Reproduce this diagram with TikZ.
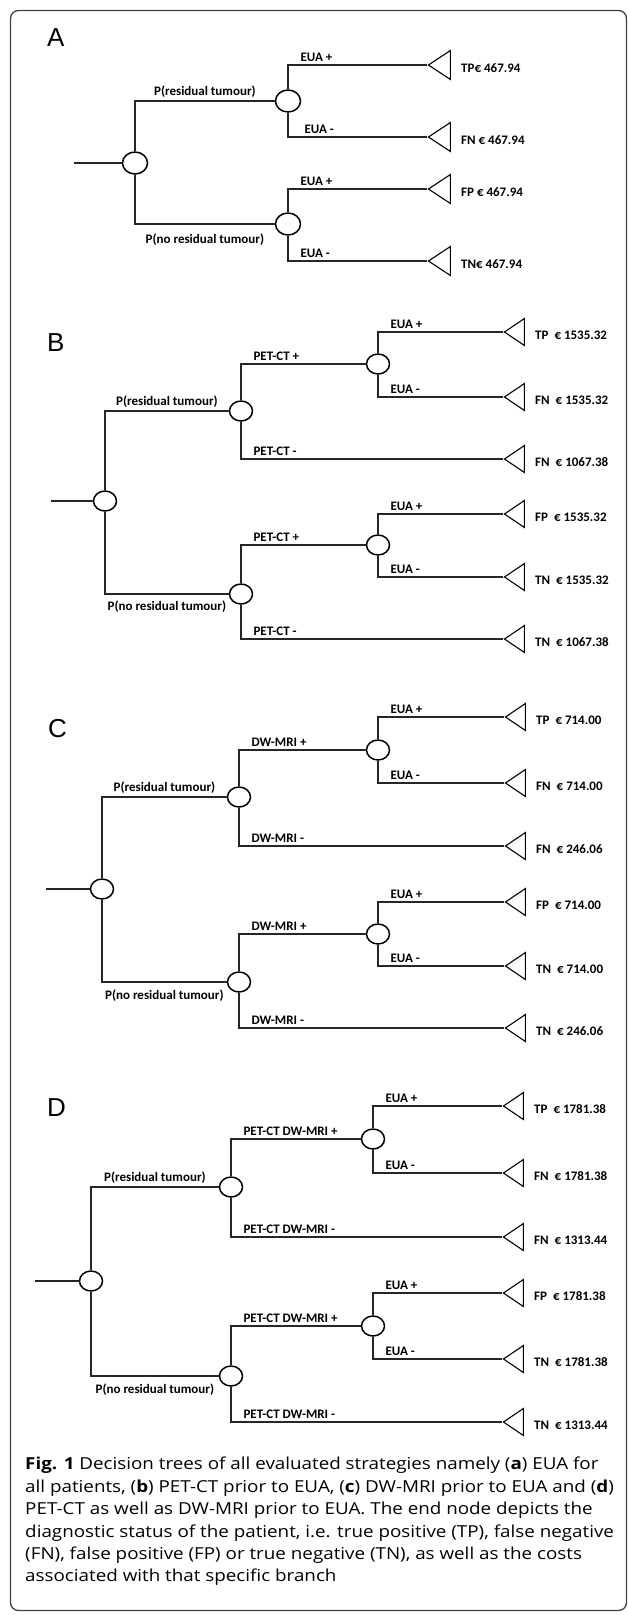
\documentclass[tikz,border=0pt]{standalone}
\usepackage{fontspec}
\setmainfont{Liberation Sans}
\newfontfamily\treefont{Carlito}
\newfontfamily\capfont{Open Sans}
\usetikzlibrary{positioning,shapes.geometric}

\newcommand{\costgap}{\hspace{6pt}}

\tikzset{
  frame/.style={draw=black!75, line width=1.3pt, rounded corners=8pt},
  chance/.style={draw, line width=1.5pt, ellipse, inner sep=0pt,
    minimum width=23pt, minimum height=20pt},
  bigchance/.style={chance, minimum width=25pt, minimum height=22pt},
  payoff/.style={draw, line width=1.1pt, isosceles triangle,
    shape border rotate=180, isosceles triangle stretches, inner sep=0pt,
    minimum width=27pt, minimum height=20pt, anchor=apex},
  bigpayoff/.style={payoff, minimum width=29pt, minimum height=22pt},
  branch/.style={draw=black!85, line width=1.1pt},
  prob/.style={font=\treefont\bfseries\fontsize{13}{15}\selectfont, inner sep=3pt},
  testlabel/.style={prob, pos=0.5, above right, xshift=9pt},
  cost/.style={prob, right=7pt of #1, yshift=-3pt},
  letter/.style={font=\fontsize{26}{30}\selectfont, anchor=base west, inner sep=0pt},
  figcaption/.style={font=\capfont\fontsize{16.5}{22.4}\selectfont, align=left,
    anchor=north west, inner sep=0pt, xscale=1.14}
}

\begin{document}
\begin{tikzpicture}[x=1pt, y=-1pt]
\useasboundingbox (0,0) rectangle (627,1615);
\draw[frame] (10.5,10.5) rectangle (626.5,1610.5);

% ----- A: EUA for all patients -----
\node[letter] (lblA) at (47,46) {A};
\coordinate (a-in) at (74,163);
\node[bigchance] (a0) at (135,163) {};
\node[bigchance] (a1) at (288,101) {};
\node[bigchance] (a2) at (288,224) {};
\node[bigpayoff] (a-tp) at (427,65) {};
\node[bigpayoff] (a-fn) at (427,137) {};
\node[bigpayoff] (a-fp) at (427,189) {};
\node[bigpayoff] (a-tn) at (427,261) {};
% branches
\draw[branch] (a-in) -- (a0);
\draw[branch] (a0) |- node[prob, pos=0.75, above] {P(residual tumour)} (a1);
\draw[branch] (a0) |- node[prob, pos=0.75, below=6pt] {P(no residual tumour)} (a2);
\draw[branch] (a1) |- node[testlabel] {EUA +} (a-tp.apex);
\draw[branch] (a1) |- node[testlabel, xshift=4pt] {EUA -} (a-fn.apex);
\draw[branch] (a2) |- node[testlabel] {EUA +} (a-fp.apex);
\draw[branch] (a2) |- node[testlabel] {EUA -} (a-tn.apex);
% costs
\node[cost=a-tp] (a-tp-c) {TP€ 467.94};
\node[cost=a-fn] (a-fn-c) {FN € 467.94};
\node[cost=a-fp] (a-fp-c) {FP € 467.94};
\node[cost=a-tn] (a-tn-c) {TN€ 467.94};

% ----- B: PET-CT prior to EUA -----
\node[letter] (lblB) at (47,351) {B};
\coordinate (b-in) at (51,501);
\node[chance] (b0) at (105,501) {};
\node[chance] (b1) at (241,411) {};
\node[chance] (b2) at (241,594) {};
\node[chance] (b11) at (378,364) {};
\node[chance] (b21) at (378,545) {};
\node[payoff] (b-tp) at (503,332) {};
\node[payoff] (b-fn) at (503,397) {};
\node[payoff] (b-fn2) at (503,459) {};
\node[payoff] (b-fp) at (503,514) {};
\node[payoff] (b-tn) at (503,577) {};
\node[payoff] (b-tn2) at (503,639) {};
% branches
\draw[branch] (b-in) -- (b0);
\draw[branch] (b0) |- node[prob, pos=0.75, above] {P(residual tumour)} (b1);
\draw[branch] (b0) |- node[prob, pos=0.75, below=3pt] {P(no residual tumour)} (b2);
\draw[branch] (b1) |- node[testlabel] {PET-CT +} (b11);
\draw[branch] (b1) |- node[testlabel] {PET-CT -} (b-fn2.apex);
\draw[branch] (b2) |- node[testlabel] {PET-CT +} (b21);
\draw[branch] (b2) |- node[testlabel] {PET-CT -} (b-tn2.apex);
\draw[branch] (b11) |- node[testlabel] {EUA +} (b-tp.apex);
\draw[branch] (b11) |- node[testlabel] {EUA -} (b-fn.apex);
\draw[branch] (b21) |- node[testlabel] {EUA +} (b-fp.apex);
\draw[branch] (b21) |- node[testlabel] {EUA -} (b-tn.apex);
% costs
\node[cost=b-tp] (b-tp-c) {TP\costgap € 1535.32};
\node[cost=b-fn] (b-fn-c) {FN\costgap € 1535.32};
\node[cost=b-fn2] (b-fn2-c) {FN\costgap € 1067.38};
\node[cost=b-fp] (b-fp-c) {FP\costgap € 1535.32};
\node[cost=b-tn] (b-tn-c) {TN\costgap € 1535.32};
\node[cost=b-tn2] (b-tn2-c) {TN\costgap € 1067.38};

% ----- C: DW-MRI prior to EUA -----
\node[letter] (lblC) at (48,737) {C};
\coordinate (c-in) at (46,889);
\node[chance] (c0) at (102,889) {};
\node[chance] (c1) at (239,797) {};
\node[chance] (c2) at (239,982) {};
\node[chance] (c11) at (378,750) {};
\node[chance] (c21) at (378,934) {};
\node[payoff] (c-tp) at (504,717) {};
\node[payoff] (c-fn) at (504,783) {};
\node[payoff] (c-fn2) at (504,846) {};
\node[payoff] (c-fp) at (504,902) {};
\node[payoff] (c-tn) at (504,966) {};
\node[payoff] (c-tn2) at (504,1028) {};
% branches
\draw[branch] (c-in) -- (c0);
\draw[branch] (c0) |- node[prob, pos=0.75, above] {P(residual tumour)} (c1);
\draw[branch] (c0) |- node[prob, pos=0.75, below=4pt] {P(no residual tumour)} (c2);
\draw[branch] (c1) |- node[testlabel] {DW-MRI +} (c11);
\draw[branch] (c1) |- node[testlabel] {DW-MRI -} (c-fn2.apex);
\draw[branch] (c2) |- node[testlabel] {DW-MRI +} (c21);
\draw[branch] (c2) |- node[testlabel] {DW-MRI -} (c-tn2.apex);
\draw[branch] (c11) |- node[testlabel] {EUA +} (c-tp.apex);
\draw[branch] (c11) |- node[testlabel] {EUA -} (c-fn.apex);
\draw[branch] (c21) |- node[testlabel] {EUA +} (c-fp.apex);
\draw[branch] (c21) |- node[testlabel] {EUA -} (c-tn.apex);
% costs
\node[cost=c-tp] (c-tp-c) {TP\costgap € 714.00};
\node[cost=c-fn] (c-fn-c) {FN\costgap € 714.00};
\node[cost=c-fn2] (c-fn2-c) {FN\costgap € 246.06};
\node[cost=c-fp] (c-fp-c) {FP\costgap € 714.00};
\node[cost=c-tn] (c-tn-c) {TN\costgap € 714.00};
\node[cost=c-tn2] (c-tn2-c) {TN\costgap € 246.06};

% ----- D: PET-CT and DW-MRI prior to EUA -----
\node[letter] (lblD) at (47,1116) {D};
\coordinate (d-in) at (35,1281);
\node[chance] (d0) at (91,1281) {};
\node[chance] (d1) at (231,1187) {};
\node[chance] (d2) at (231,1376) {};
\node[chance] (d11) at (373,1139) {};
\node[chance] (d21) at (373,1326) {};
\node[payoff] (d-tp) at (502,1106) {};
\node[payoff] (d-fn) at (502,1173) {};
\node[payoff] (d-fn2) at (502,1237) {};
\node[payoff] (d-fp) at (502,1293) {};
\node[payoff] (d-tn) at (502,1359) {};
\node[payoff] (d-tn2) at (502,1422) {};
% branches
\draw[branch] (d-in) -- (d0);
\draw[branch] (d0) |- node[prob, pos=0.75, above] {P(residual tumour)} (d1);
\draw[branch] (d0) |- node[prob, pos=0.75, below=4pt] {P(no residual tumour)} (d2);
\draw[branch] (d1) |- node[testlabel] {PET-CT DW-MRI +} (d11);
\draw[branch] (d1) |- node[testlabel] {PET-CT DW-MRI -} (d-fn2.apex);
\draw[branch] (d2) |- node[testlabel] {PET-CT DW-MRI +} (d21);
\draw[branch] (d2) |- node[testlabel] {PET-CT DW-MRI -} (d-tn2.apex);
\draw[branch] (d11) |- node[testlabel] {EUA +} (d-tp.apex);
\draw[branch] (d11) |- node[testlabel] {EUA -} (d-fn.apex);
\draw[branch] (d21) |- node[testlabel] {EUA +} (d-fp.apex);
\draw[branch] (d21) |- node[testlabel] {EUA -} (d-tn.apex);
% costs
\node[cost=d-tp] (d-tp-c) {TP\costgap € 1781.38};
\node[cost=d-fn] (d-fn-c) {FN\costgap € 1781.38};
\node[cost=d-fn2] (d-fn2-c) {FN\costgap € 1313.44};
\node[cost=d-fp] (d-fp-c) {FP\costgap € 1781.38};
\node[cost=d-tn] (d-tn-c) {TN\costgap € 1781.38};
\node[cost=d-tn2] (d-tn2-c) {TN\costgap € 1313.44};

% caption
\node[figcaption] (cap) at (25,1457) {\textbf{Fig. 1} Decision trees of all evaluated strategies namely (\textbf{a}) EUA for\\
all patients, (\textbf{b}) PET-CT prior to EUA, (\textbf{c}) DW-MRI prior to EUA and (\textbf{d})\\
PET-CT as well as DW-MRI prior to EUA. The end node depicts the\\
diagnostic status of the patient, i.e. true positive (TP), false negative\\
(FN), false positive (FP) or true negative (TN), as well as the costs\\
associated with that specific branch};
\end{tikzpicture}
\end{document}
